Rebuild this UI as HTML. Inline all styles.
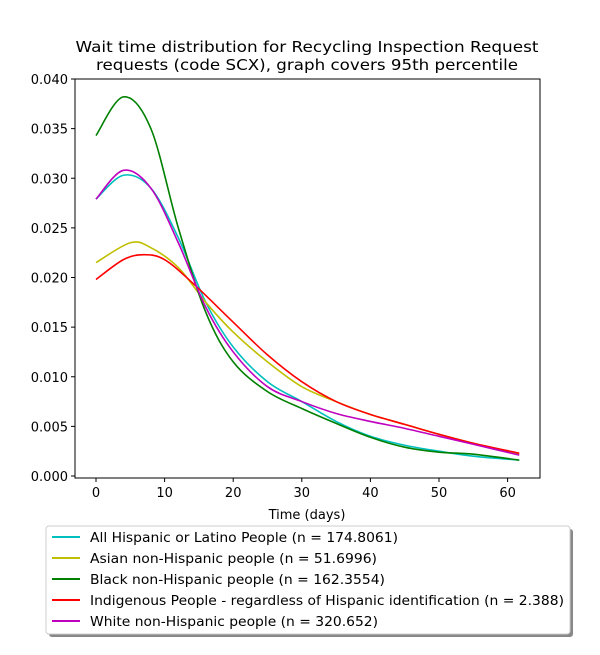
<!DOCTYPE html>
<html><head><meta charset="utf-8"><style>
body{margin:0;background:#fff;font-family:"Liberation Sans","DejaVu Sans",sans-serif;}
svg text{font-family:"DejaVu Sans","Liberation Sans",sans-serif;}
</style></head><body>
<svg id="chart" width="600" height="650" viewBox="0 0 600 650">
<rect width="600" height="650" fill="#fff"/>
<text x="307" y="52" text-anchor="middle" font-size="15" textLength="463" lengthAdjust="spacingAndGlyphs">Wait time distribution  for Recycling Inspection Request</text>
<text x="307" y="70" text-anchor="middle" font-size="15" textLength="422" lengthAdjust="spacingAndGlyphs">requests (code SCX), graph covers 95th percentile</text>
<g id="grid"></g>
<g id="series"></g>
<rect x="75" y="79" width="465" height="399" fill="none" stroke="#000" stroke-width="1"/>
<g id="axes"></g>
<text x="307" y="519" text-anchor="middle" font-size="13">Time (days)</text>
<g>
<rect x="49" y="529" width="524" height="108" rx="3" fill="#888"/>
<rect x="46" y="526" width="524" height="108" rx="3" fill="#fff" stroke="#ccc"/>
<g id="legend-items"></g>
</g>
</svg>
<script>
const labels=["All Hispanic or Latino People (n = 174.8061)","Asian non-Hispanic people (n = 51.6996)","Black non-Hispanic people (n = 162.3554)","Indigenous People - regardless of Hispanic identification (n = 2.388)","White non-Hispanic people (n = 320.652)"];
const colors=["#00bfbf","#bfbf00","#008000","#ff0000","#bf00bf"];
const xTicks=[0,10,20,30,40,50,60];
const yTicks=[0,0.005,0.01,0.015,0.02,0.025,0.03,0.035,0.04];
const cyanX=[0,4,8,12,16,20,25,30,35,40,45,50,55,61.7];
const cyanY=[0.0279,0.0303,0.0290,0.0240,0.0175,0.0130,0.0095,0.0075,0.0055,0.0040,0.0031,0.0025,0.0020,0.0016];
const yellowX=[0,5,8,12,16,20,25,30,35,40,45,50,55,61.7];
const yellowY=[0.0215,0.0235,0.0230,0.0210,0.0175,0.0145,0.0115,0.0090,0.0075,0.0062,0.0052,0.0042,0.0033,0.0022];
const greenX=[0,4,8,12,16,20,25,30,35,40,45,50,55,61.7];
const greenY=[0.0343,0.0382,0.0350,0.0250,0.0165,0.0115,0.0085,0.0068,0.0053,0.0039,0.0029,0.0024,0.0022,0.0016];
const redX=[0,4,7,10,14,20,25,30,35,40,45,50,55,61.7];
const redY=[0.0198,0.0218,0.0223,0.0218,0.0195,0.0155,0.0122,0.0095,0.0075,0.0062,0.0052,0.0042,0.0033,0.0023];
const magentaX=[0,4,8,12,16,20,25,30,35,40,45,50,55,61.7];
const magentaY=[0.0279,0.0308,0.0290,0.0235,0.0170,0.0125,0.0090,0.0075,0.0063,0.0055,0.0048,0.0040,0.0032,0.0021];
const seriesX=[cyanX,yellowX,greenX,redX,magentaX];
const seriesY=[cyanY,yellowY,greenY,redY,magentaY];
const NS="http://www.w3.org/2000/svg";
const X=d=>96+(d-0)*6.86;
const Y=v=>476-v*9925;
const axes=document.getElementById('axes');
function mk(tag,attrs,parent){const e=document.createElementNS(NS,tag);for(const k in attrs)e.setAttribute(k,attrs[k]);parent.appendChild(e);return e;}
xTicks.forEach(t=>{
  const l=mk('line',{x1:X(t),x2:X(t),y1:478,y2:482,stroke:'#000'},axes);
  
  
  const tx=mk('text',{x:X(t),y:497,'text-anchor':'middle','font-size':13},axes);
  tx.textContent=t;
  
  
});
yTicks.forEach(t=>{
  const l=mk('line',{x1:71,x2:75,y1:Y(t),y2:Y(t),stroke:'#000'},axes);
  
  
  const tx=mk('text',{x:68,y:Y(t)+5,'text-anchor':'end','font-size':13},axes);
  tx.textContent=t.toFixed(3);
  
  
});
function smooth(xs,ys){
  const p=xs.map((x,i)=>[X(x),Y(ys[i])]);
  let d=`M${p[0][0]},${p[0][1]}`;
  for(let i=0;i<p.length-1;i++){
    const p0=p[Math.max(i-1,0)],p1=p[i],p2=p[i+1],p3=p[Math.min(i+2,p.length-1)];
    const c1=[p1[0]+(p2[0]-p0[0])/6,p1[1]+(p2[1]-p0[1])/6];
    const c2=[p2[0]-(p3[0]-p1[0])/6,p2[1]-(p3[1]-p1[1])/6];
    d+=` C${c1[0]},${c1[1]} ${c2[0]},${c2[1]} ${p2[0]},${p2[1]}`;
  }
  return d;
}
const sg=document.getElementById('series');
const names=['hispanic','asian','black','indigenous','white'];
seriesX.forEach((xs,i)=>{
  const pth=mk('path',{d:smooth(xs,seriesY[i]),fill:'none',stroke:colors[i],'stroke-width':1.6},sg);
  
  
});
const lg=document.getElementById('legend-items');
const legendLens=[308,287,295,474,288];
labels.forEach((lab,i)=>{
  const y=537+i*21;
  const g=mk('g',{},lg);
  
  
  mk('line',{x1:52,x2:80,y1:y,y2:y,stroke:colors[i],'stroke-width':2},g);
  const t=mk('text',{x:90,y:y+5,'font-size':13,textLength:legendLens[i],lengthAdjust:'spacingAndGlyphs'},g);
  t.textContent=lab;
});
</script>
</body></html>
